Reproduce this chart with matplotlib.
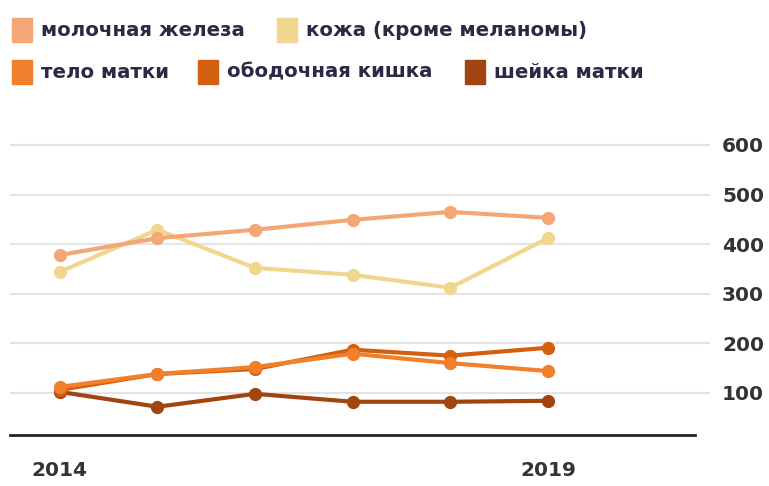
import matplotlib.pyplot as plt
from matplotlib.patches import Rectangle

# Data
years = [2014, 2015, 2016, 2017, 2018, 2019]
breast = [378, 412, 429, 449, 465, 453]
skin = [344, 429, 352, 338, 312, 412]
uterus = [112, 138, 152, 179, 160, 144]
colon = [106, 138, 148, 187, 175, 191]
cervix = [102, 72, 98, 82, 82, 84]

yticks = [100, 200, 300, 400, 500, 600]
xticks = [2014, 2019]

legend_labels = ['молочная железа', 'кожа (кроме меланомы)',
                 'тело матки', 'ободочная кишка', 'шейка матки']
colors = ['#F4A676', '#F0D68E', '#F0802C', '#D2600F', '#A2440F']

plt.rcParams['font.family'] = ['DejaVu Sans']

W, H = 769, 486
fig = plt.figure(figsize=(W / 100, H / 100), dpi=100)
ax = fig.add_axes([10 / W, 1 - 435 / H, 700 / W, 295 / H])

ax.set_xlim(2013.49, 2020.66)
ax.set_ylim(15, 610)

# series, drawn back to front
series = [(skin, colors[1]), (breast, colors[0]), (cervix, colors[4]),
          (colon, colors[3]), (uterus, colors[2])]
for vals, c in series:
    ax.plot(years, vals, color=c, lw=3, marker='o', ms=8.5,
            mec=c, mfc=c, solid_capstyle='round', zorder=3)

# grid and baseline
for v in yticks:
    ax.axhline(v, color='#e4e4e4', lw=1.5, zorder=1)
ax.axhline(15, xmin=0, xmax=685 / 700, color='#222222', lw=2, clip_on=False)

for s in ax.spines.values():
    s.set_visible(False)

ax.yaxis.tick_right()
ax.set_yticks(yticks)
ax.set_yticklabels([str(v) for v in yticks], fontsize=14.5, color='#333333',
                   ha='right', fontweight='bold')
ax.tick_params(axis='y', length=0, pad=39)
ax.set_xticks(xticks)
ax.set_xticklabels([str(v) for v in xticks], fontsize=14.5, color='#333333',
                   fontweight='bold')
ax.tick_params(axis='x', length=0, pad=19)

# legend built by hand, two rows
legend_pos = [(12, 30), (277, 30), (12, 72), (198, 72), (465, 72)]
for (x, y), lab, c in zip(legend_pos, legend_labels, colors):
    fig.patches.append(Rectangle((x / W, 1 - (y + 12) / H), 20 / W, 24 / H,
                                 transform=fig.transFigure, color=c))
    fig.text((x + 29) / W, 1 - y / H, lab, fontsize=14.2, fontweight='bold',
             color='#2a2a44', va='center', ha='left')

fig.savefig('out.png', dpi=100, facecolor='white')
